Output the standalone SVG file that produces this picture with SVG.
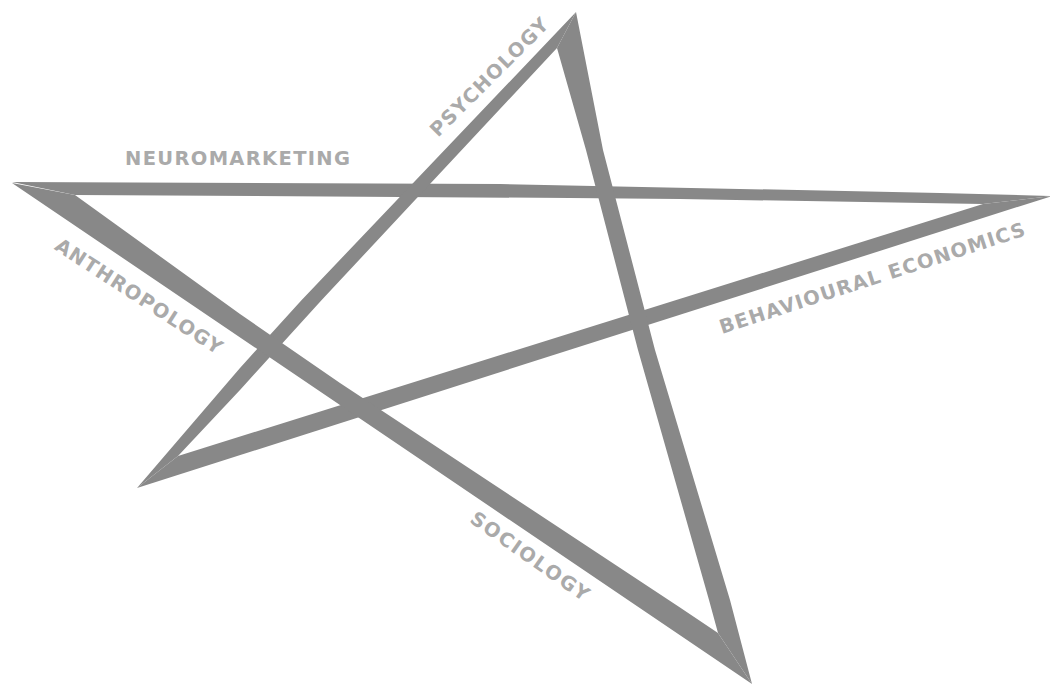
<svg xmlns="http://www.w3.org/2000/svg" width="1050" height="685" viewBox="0 0 1050 685">
<style>
.band{fill:#888888;stroke:none}
.lbl{font-family:"DejaVu Sans","Liberation Sans",Arial,sans-serif;font-weight:bold;font-size:19.5px;fill:#aaaaaa;text-anchor:middle}
</style>
<rect width="1050" height="685" fill="#ffffff"/>
<g id="connectors">
<polygon class="band" points="12,182 500,184 940,193 1052,196 983,204 680,199 570,198 75,195"/>
<polygon class="band" points="1052,196 137,488 178,456 983,204"/>
<polygon class="band" points="137,488 240,368 301.7,300 576,12 557,48 321.7,300 240,390 178,456"/>
<polygon class="band" points="576,12 603,150 655,350 730,600 752,684 718,633 709,600 638,350 586,150 557,48"/>
<polygon class="band" points="12,183 752,684 718,633 680,607.5 340,383 240,314 75,195"/>
</g>
<g id="neuromarketing"><text class="lbl" x="237.5" y="165" textLength="225" lengthAdjust="spacing">NEUROMARKETING</text></g>
<g id="psychology" transform="translate(489,77) rotate(-45)"><text class="lbl" x="0" y="7" textLength="158" lengthAdjust="spacing">PSYCHOLOGY</text></g>
<g id="anthropology" transform="translate(139,296) rotate(33)"><text class="lbl" x="0" y="7" textLength="195" lengthAdjust="spacing">ANTHROPOLOGY</text></g>
<g id="sociology" transform="translate(530,556) rotate(35)"><text class="lbl" x="0" y="7" textLength="140" lengthAdjust="spacing">SOCIOLOGY</text></g>
<g id="behavioural-economics" transform="translate(872,278) rotate(-18)"><text class="lbl" x="0" y="7" textLength="320" lengthAdjust="spacing">BEHAVIOURAL ECONOMICS</text></g>
</svg>
